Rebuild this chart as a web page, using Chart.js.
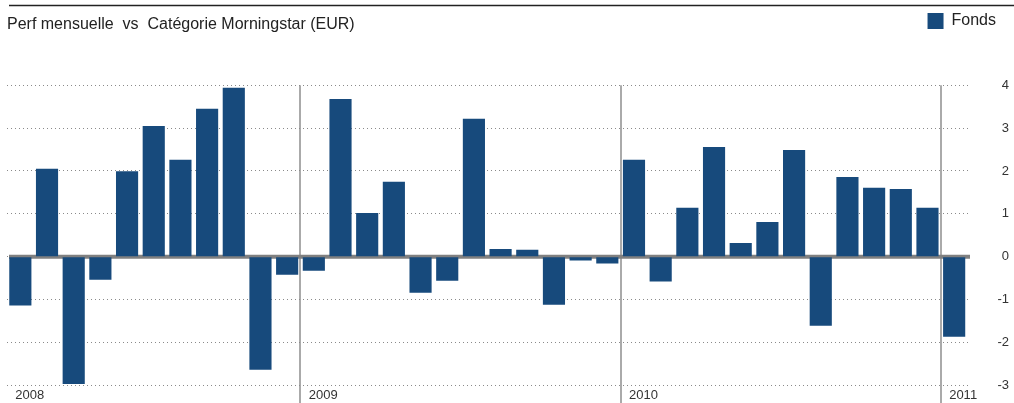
<!DOCTYPE html>
<html>
<head>
<meta charset="utf-8">
<script src="https://cdn.jsdelivr.net/npm/chart.js@4/dist/chart.umd.min.js"></script>
<style>
  html, body { margin: 0; padding: 0; background: #fff; }
  #wrap { position: relative; width: 1014px; height: 403px; }
</style>
</head>
<body>
<div id="wrap"><canvas id="c" width="1014" height="403"></canvas></div>
<script>
const titleText = 'Perf mensuelle  vs  Catégorie Morningstar (EUR)';
const seriesName = 'Fonds';
const months = [
  '2008-02','2008-03','2008-04','2008-05','2008-06','2008-07','2008-08','2008-09','2008-10','2008-11','2008-12',
  '2009-01','2009-02','2009-03','2009-04','2009-05','2009-06','2009-07','2009-08','2009-09','2009-10','2009-11','2009-12',
  '2010-01','2010-02','2010-03','2010-04','2010-05','2010-06','2010-07','2010-08','2010-09','2010-10','2010-11','2010-12',
  '2011-01'
];
const fonds = [
  -1.14, 2.05, -2.97, -0.54, 1.99, 3.05, 2.26, 3.45, 3.94, -2.64, -0.42,
  -0.33, 3.68, 1.02, 1.75, -0.84, -0.56, 3.22, 0.18, 0.16, -1.12, -0.09, -0.16,
  2.26, -0.58, 1.14, 2.56, 0.32, 0.81, 2.49, -1.61, 1.86, 1.61, 1.58, 1.14,
  -1.87
];
const yTicks = [-3, -2, -1, 0, 1, 2, 3, 4];

const FONT = "'Liberation Sans', Arial, sans-serif";
const BAR = '#174a7c';

const isYearStart = i => i < months.length && (i === 0 || months[i].slice(5) === '01');

const decor = {
  id: 'decor',
  beforeDraw(chart) {
    const ctx = chart.ctx;
    ctx.save();
    ctx.strokeStyle = '#222';
    ctx.lineWidth = 1.3;
    ctx.beginPath();
    ctx.moveTo(9, 5.5);
    ctx.lineTo(chart.width, 5.5);
    ctx.stroke();
    ctx.restore();
  },
  beforeDatasetsDraw(chart) {
    const {ctx, chartArea, scales} = chart;
    const y0 = scales.y.getPixelForValue(0);
    ctx.save();
    ctx.strokeStyle = '#808080';
    ctx.lineWidth = 4;
    ctx.beginPath();
    ctx.moveTo(chartArea.left + 2, y0);
    ctx.lineTo(chartArea.right + 2.5, y0);
    ctx.stroke();
    ctx.restore();
  }
};

new Chart(document.getElementById('c'), {
  type: 'bar',
  data: {
    labels: months,
    datasets: [{
      label: seriesName,
      data: fonds,
      backgroundColor: BAR,
      borderWidth: 0,
      barPercentage: 0.83,
      categoryPercentage: 1.0
    }]
  },
  options: {
    responsive: false,
    animation: false,
    devicePixelRatio: 1,
    layout: { padding: { left: 7, right: 5, top: 0, bottom: 0 } },
    plugins: {
      tooltip: { enabled: false },
      legend: {
        display: true,
        position: 'top',
        align: 'end',
        weight: 3000,
        labels: {
          boxWidth: 16,
          boxHeight: 16,
          padding: 13,
          color: '#222',
          font: { family: FONT, size: 16 }
        }
      },
      title: {
        display: true,
        text: titleText,
        position: 'top',
        align: 'start',
        weight: 500,
        color: '#222',
        font: { family: FONT, size: 16, weight: 'normal' },
        padding: { top: -24.4, bottom: 51.4 }
      }
    },
    scales: {
      x: {
        offset: true,
        afterFit: s => { s.height = 17.7; },
        border: { display: false },
        grid: {
          offset: true,
          drawOnChartArea: true,
          drawTicks: true,
          tickLength: 18,
          lineWidth: 2,
          color: c => isYearStart(c.index) && c.index > 0 ? '#aaaaaa' : 'rgba(0,0,0,0)'
        },
        ticks: {
          autoSkip: false,
          maxRotation: 0,
          minRotation: 0,
          align: 'start',
          labelOffset: -5,
          padding: -15.7,
          color: '#333',
          font: { family: FONT, size: 13 },
          callback: (v, i) => isYearStart(i) ? months[i].slice(0, 4) : ''
        }
      },
      y: {
        position: 'right',
        min: yTicks[0],
        max: yTicks[yTicks.length - 1],
        afterFit: s => { s.width = 41.5; },
        afterBuildTicks: s => { s.ticks = yTicks.map(v => ({ value: v })); },
        border: { display: false, dash: [1, 3] },
        grid: {
          drawTicks: true,
          tickLength: 29.9,
          tickColor: 'rgba(0,0,0,0)',
          color: '#8a8a8a',
          lineWidth: 1
        },
        ticks: {
          crossAlign: 'far',
          padding: 0,
          color: '#333',
          font: { family: FONT, size: 13 }
        }
      }
    }
  },
  plugins: [decor]
});
</script>
</body>
</html>
